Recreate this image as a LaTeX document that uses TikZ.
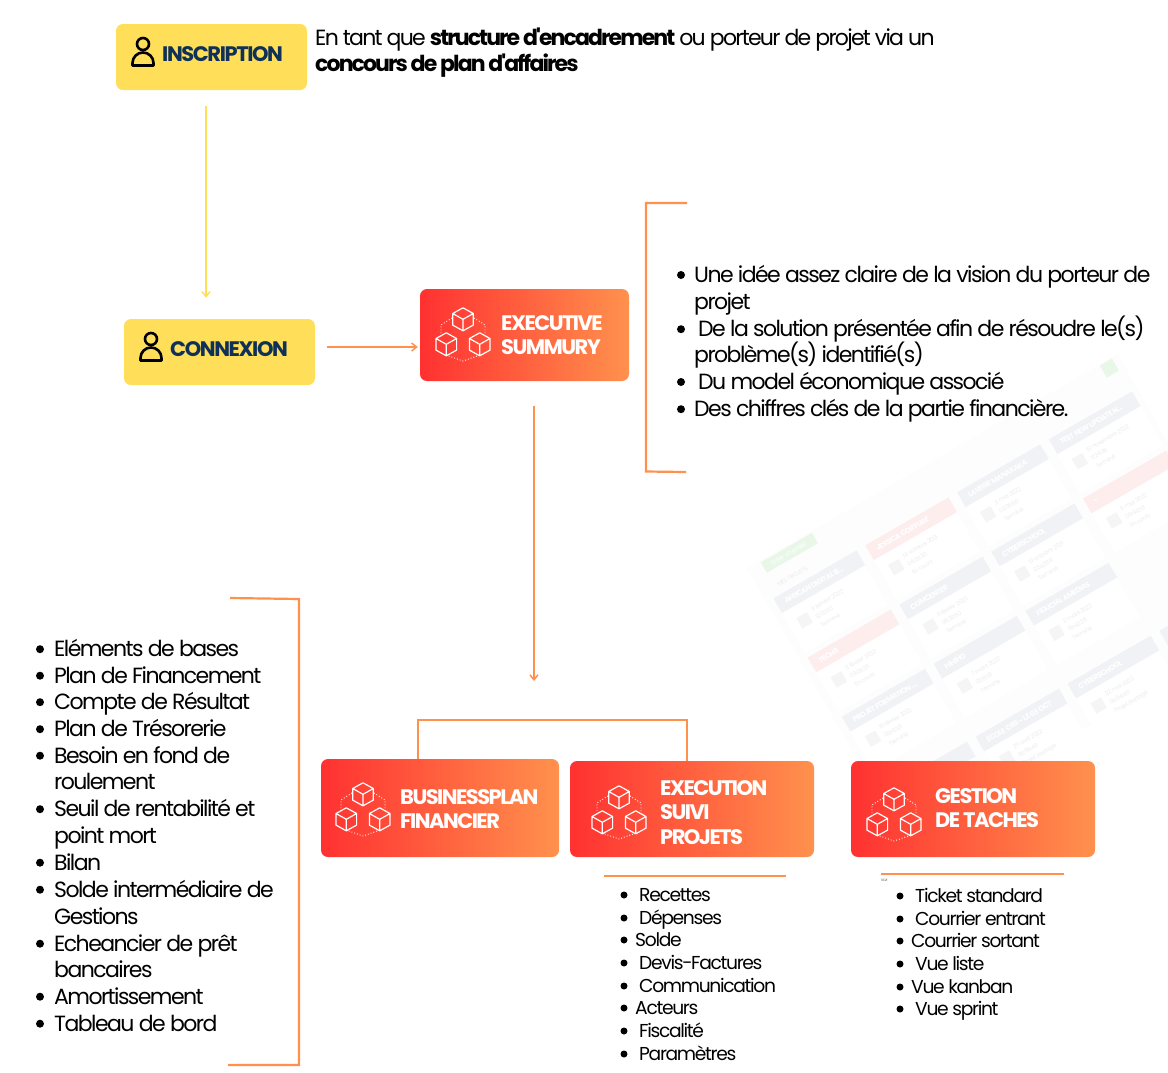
\documentclass[tikz,border=0pt]{standalone}
\usepackage{fontspec}
\setmainfont[LetterSpace=-7.1, BoldFeatures={LetterSpace=-8.6}]{Poppins}
\newfontfamily\introfont[LetterSpace=-8, BoldFeatures={LetterSpace=-8.6}]{Poppins}
\newfontfamily\signfont[LetterSpace=-6.7, BoldFeatures={LetterSpace=-6.7}]{Poppins}
\newfontfamily\modfont[LetterSpace=-7.3, BoldFeatures={LetterSpace=-7.3}]{Poppins}
\usetikzlibrary{arrows.meta}
\definecolor{signyellow}{HTML}{FFDE59}
\definecolor{signblue}{HTML}{0F3057}
\definecolor{redstart}{HTML}{FF3131}
\definecolor{redend}{HTML}{FF914D}
\definecolor{cardgrey}{HTML}{F0F2F6}
\definecolor{cardred}{HTML}{FDEDED}
\definecolor{cardgreen}{HTML}{E8F7E8}
\tikzset{
	signbox/.style={fill=signyellow, rounded corners=7pt, minimum width=191pt, minimum height=66pt},
	modbox/.style={left color=redstart, right color=redend, rounded corners=7pt, minimum height=96pt},
	signlabel/.style={anchor=west, text=signblue, font=\signfont\fontsize{21}{21}\selectfont\bfseries},
	modlabel/.style={anchor=base west, text=white, font=\modfont\fontsize{21}{21}\selectfont\bfseries},
	bigtext/.style={anchor=base west, inner sep=0pt, font=\fontsize{22}{22}\selectfont},
	smalltext/.style={anchor=base west, inner sep=0pt, font=\fontsize{18.7}{18.7}\selectfont},
	bracket/.style={redend, line width=2.2pt},
	link/.style={line width=1.5pt, -{Straight Barb[length=5pt,width=8pt]}},
	person/.pic={
		\draw[black, line width=2.6pt] (0,-8) circle (6);
		\draw[black, line width=2.6pt, line join=round] (-10.5,13.5) -- (-10.5,11) arc[start angle=180, end angle=360, radius=10.5] -- (10.5,13.5) -- cycle;
	},
	cube/.pic={
		\draw[white, line width=1.2pt, line join=round] (0,-11.5) -- (10.3,-5.8) -- (10.3,5.8) -- (0,11.5) -- (-10.3,5.8) -- (-10.3,-5.8) -- cycle (-10.3,-5.8) -- (0,0) -- (10.3,-5.8) (0,0) -- (0,11.5);
	},
	cubes/.pic={
		\pic at (0,-20.7) {cube};
		\pic at (-16.7,4.3) {cube};
		\pic at (16.7,4.3) {cube};
		\draw[white, line width=0.9pt, dotted] (-11,-22) -- (-22,-15) -- (-22,-3) (-17,15) -- (0,21) -- (17,15) (11,-22) -- (22,-15) -- (22,-3);
	},
	cardtext/.style={anchor=base west, inner sep=0pt, transform shape, text=black!7, font=\fontsize{6}{6}\selectfont},
	cardtitle/.style={anchor=west, inner sep=0pt, transform shape, text=white, font=\fontsize{7.5}{7.5}\selectfont\bfseries}
}
\begin{document}
\begin{tikzpicture}[x=1pt, y=-1pt]
	\useasboundingbox (0,0) rectangle (1168,1072);
	% faint dashboard behind the text
	\begin{scope}
		\clip (0,0) rectangle (1168,1072);
		\begin{scope}[shift={(819.3,581.7)}, rotate=30]
			\fill[black!0.8] (-56,-48) rectangle (372,260);
			\foreach \i/\j/\c/\t/\d/\h/\s [count=\n] in {
				0/0/cardgrey/{AFRICAN DIGITAL B\ldots}/9 janvier 2022/12:32:50/Terminé,
				1/0/cardred/JESSICA COIFFURE/14 octobre 2021/04:28:20/En cours,
				2/0/cardgrey/LAVERIE MANAKAKA/3 mai 2022/03:35:50/Terminé,
				3/0/cardgrey/{TEST NEW UPDATE N\ldots}/10 novembre 2022/11:24:38/Terminé,
				0/1/cardred/TECH9/8 février 2022/09:06:35/En cours,
				1/1/cardgrey/COMCENTER/11 février 2022/08:28:50/Terminé,
				2/1/cardgrey/CYBERSCHOOL/12 octobre 2021/02:42:59/Terminé,
				3/1/cardred/{-}/5 mai 2022/09:44:58/En cours,
				0/2/cardgrey/{PROJET FORMATION \ldots}/18 février 2022/09:16:38/Terminé,
				1/2/cardgrey/HIHIHO/7 mars 2022/02:11:58/Terminé,
				2/2/cardgrey/FIDUCIAL AMEDIAS/2 mars 2022/09:42:26/Terminé,
				1/3.23/cardgrey/ECOLE CBS - LE 03 OCT/25 avril 2022/08:56:48/Projet partagé,
				2/3.23/cardgrey/CYBERSCHOOL/22 mai 2022/09:54:48/Projet partagé%
			} {
				\fill[white] (106*\i-48,68.4*\j+8) rectangle +(96,46);
				\fill[\c] (106*\i-48,68.4*\j-8.5) rectangle +(96,17);
				\node[cardtitle] (card\n) at (106*\i-40,68.4*\j) {\t};
				\fill[black!4] (106*\i-38,68.4*\j+20) rectangle +(12,12);
				\node[cardtext] (date\n) at (106*\i-21,68.4*\j+22) {\d};
				\node[cardtext] (hour\n) at (106*\i-21,68.4*\j+31.5) {\h};
				\node[cardtext] (state\n) at (106*\i-21,68.4*\j+41) {\s};
			}
			\fill[cardgrey] (-48,212.4) rectangle +(96,17);
			\fill[cardgrey] (270,212.4) rectangle +(96,17);
			\fill[cardgreen] (-41,-46) rectangle +(59,12);
			\node[cardtext, text=white] (create) at (-33,-37.7) {Créer un projet};
			\node[cardtext] (mine) at (-38,-16) {MES PROJETS};
			\fill[cardgreen] (351,-47) rectangle +(14,14);
		\end{scope}
	\end{scope}
	% sign-in
	\node[signbox] (inscription) at (211.5,57) {};
	\node[signbox] (connexion) at (219.5,352) {};
	\pic at (143,52) {person};
	\pic at (151,347) {person};
	\node[signlabel, inner sep=0pt] (inscriptionlab) at (162,54) {INSCRIPTION};
	\node[signlabel, inner sep=0pt] (connexionlab) at (170,349.5) {CONNEXION};
	\node[bigtext] (introa) at (315,45) {\introfont En tant que {\bfseries structure d'encadrement} ou porteur de projet via un};
	\node[bigtext] (introb) at (315,71) {\introfont{\bfseries concours de plan d'affaires}};
	% modules
	\node[modbox, minimum width=209pt, minimum height=92pt] (summary) at (524.5,335) {};
	\node[modbox, minimum width=238pt, minimum height=98pt] (businessplan) at (440,808) {};
	\node[modbox, minimum width=244pt] (execution) at (692,809) {};
	\node[modbox, minimum width=244pt] (gestion) at (973,809) {};
	\pic at (463,340) {cubes};
	\pic at (363,815) {cubes};
	\pic at (619,818) {cubes};
	\pic at (894,820) {cubes};
	\node[modlabel, inner sep=0pt] (summarya) at (501,330) {EXECUTIVE};
	\node[modlabel, inner sep=0pt] (summaryb) at (501,354) {SUMMURY};
	\node[modlabel, inner sep=0pt] (businessa) at (400,804) {BUSINESSPLAN};
	\node[modlabel, inner sep=0pt] (businessb) at (400,828) {FINANCIER};
	\node[modlabel, inner sep=0pt] (executiona) at (660,795) {EXECUTION};
	\node[modlabel, inner sep=0pt] (executionb) at (660,819) {SUIVI};
	\node[modlabel, inner sep=0pt] (executionc) at (660,844) {PROJETS};
	\node[modlabel, inner sep=0pt] (gestiona) at (935,803) {GESTION};
	\node[modlabel, inner sep=0pt] (gestionb) at (935,827) {DE TACHES};
	% connectors
	\draw[link, signyellow] ([xshift=-5.5pt,yshift=-16pt]inscription.south) -- ([xshift=-13.5pt,yshift=21pt]connexion.north);
	\draw[link, redend] ([xshift=12pt,yshift=5pt]connexion.east) -- ([xshift=-2pt,yshift=-12pt]summary.west);
	\coordinate (splitpoint) at (534,681);
	\draw[link, redend] ([xshift=9.5pt,yshift=-25pt]summary.south) -- (splitpoint);
	\draw[bracket] ([xshift=-22pt]businessplan.north) -- ++(0,-39) -| ([xshift=-5pt]execution.north);
	% brackets
	\coordinate (summarytop) at (687,203);
	\coordinate (summarybottom) at (686,472);
	\draw[bracket] (summarytop) -- (646,203) -- (646,471.5) -- (summarybottom);
	\coordinate (plantop) at (230,598);
	\coordinate (planbottom) at (228,1065);
	\draw[bracket] (plantop) -- (299,599) -- (299,1065) -- (planbottom);
	\coordinate (execa) at (604,876);
	\coordinate (execb) at (786,876);
	\draw[bracket] (execa) -- (execb);
	\coordinate (tasksa) at (881,874);
	\coordinate (tasksb) at (1064,874);
	\draw[bracket] (tasksa) -- (tasksb);
	\node[anchor=base west, inner sep=0pt, text=black!70, font=\fontsize{3.5}{3.5}\selectfont] (tiny) at (881,881.5) {VLVI};
	% summary list
	\foreach \y/\x/\t [count=\n] in {282/694/Une idée assez claire de la vision du porteur de, 336.2/698/De la solution présentée afin de résoudre le(s), 389/698/Du model économique associé, 416.2/694/Des chiffres clés de la partie financière.} {
		\fill (681,\y-7) circle (4);
		\node[bigtext] (summaryitem\n) at (\x,\y) {\t};
	}
	\node[bigtext] (summarymorea) at (694,309) {projet};
	\node[bigtext] (summarymoreb) at (694,362.7) {problème(s) identifié(s)};
	% plan list
	\foreach \y/\t [count=\n] in {656.7/Eléments de bases, 683.2/Plan de Financement, 709.7/Compte de Résultat, 736.7/Plan de Trésorerie, 763.2/Besoin en fond de, 816.7/Seuil de rentabilité et, 870.2/Bilan, 897.2/Solde intermédiaire de, 951.2/Echeancier de prêt, 1004.2/Amortissement, 1031.2/Tableau de bord} {
		\fill (40,\y-7.5) circle (4);
		\node[bigtext] (planitem\n) at (54,\y) {\t};
	}
	\foreach \y/\t [count=\n] in {789.7/roulement, 843.7/point mort, 924.2/Gestions, 977.2/bancaires} {
		\node[bigtext] (planmore\n) at (54,\y) {\t};
	}
	% execution list
	\foreach \y/\x/\t [count=\n] in {901/639/Recettes, 924/639/Dépenses, 946/635/Solde, 969/639/Devis-Factures, 992/639/Communication, 1014/635/Acteurs, 1037/639/Fiscalité, 1060/639/Paramètres} {
		\fill (624,\y-6) circle (3.5);
		\node[smalltext] (execitem\n) at (\x,\y) {\t};
	}
	% task list
	\foreach \y/\x/\t [count=\n] in {902/915/Ticket standard, 925/915/Courrier entrant, 947/911/Courrier sortant, 970/915/Vue liste, 993/911/Vue kanban, 1015/915/Vue sprint} {
		\fill (900,\y-6) circle (3.5);
		\node[smalltext] (taskitem\n) at (\x,\y) {\t};
	}
\end{tikzpicture}
\end{document}
